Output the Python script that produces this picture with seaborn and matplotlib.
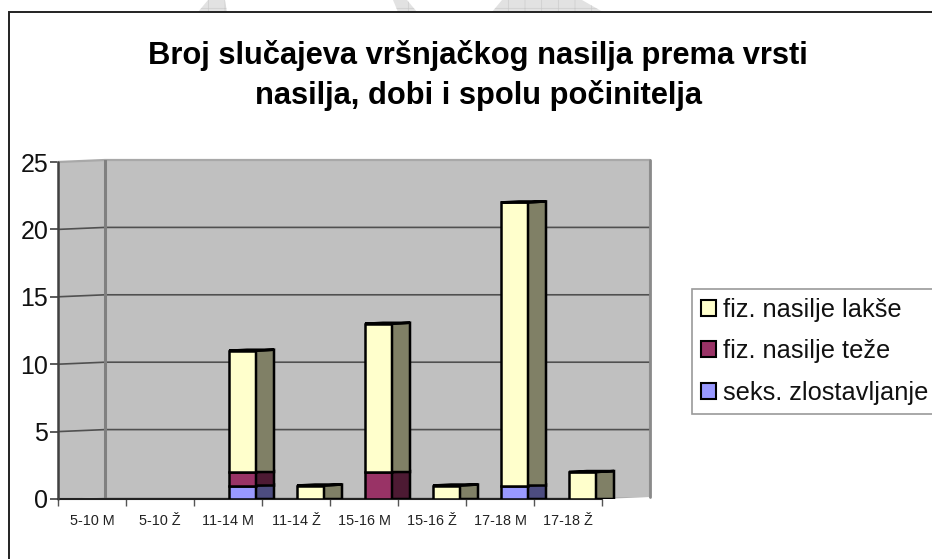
import matplotlib
matplotlib.use("Agg")
import matplotlib.pyplot as plt
from matplotlib.patches import Polygon, Patch, Rectangle
import numpy as np
import pandas as pd
import seaborn as sns

categories = ["5-10 M", "5-10 Ž", "11-14 M", "11-14 Ž", "15-16 M", "15-16 Ž", "17-18 M", "17-18 Ž"]
seks = [0, 0, 1, 0, 0, 0, 1, 0]
teze = [0, 0, 1, 0, 2, 0, 0, 0]
lakse = [0, 0, 9, 1, 11, 1, 21, 2]
series_names = ["seks. zlostavljanje", "fiz. nasilje teže", "fiz. nasilje lakše"]
face_colors = ["#9999FF", "#993366", "#FFFFCC"]
side_colors = ["#4C4C80", "#4D1A33", "#808066"]
title_lines = "Broj slučajeva vršnjačkog nasilja prema vrsti\nnasilja, dobi i spolu počinitelja"

W, H = 932, 559
sns.set_theme(style="white")
plt.rcParams["font.family"] = ["Liberation Sans", "DejaVu Sans"]
plt.rcParams["hatch.linewidth"] = 0.5

fig = plt.figure(figsize=(W / 100, H / 100), dpi=100, facecolor="white")
L, R, T, B = 58, 650, 160, 499
ax = fig.add_axes([L / W, 1 - B / H, (R - L) / W, (B - T) / H])
ax.set_facecolor("none")

px_per_cat = 68.0
px_per_val = 13.48
dx = 18 / px_per_cat        # bar depth
dy = 2 / px_per_val
wall_dx = 47 / px_per_cat
wall_dy = 2 / px_per_val

df = pd.DataFrame({"cat": categories, "seks": seks, "teze": teze, "lakse": lakse})
order = ["seks", "teze", "lakse"]
x0 = -(242.5 - L) / px_per_cat + 2
x1 = x0 + (R - L) / px_per_cat
ymax = (B - T) / px_per_val

# walls
left = x0
back = x0 + wall_dx
wall = "#C0C0C0"
ax.add_patch(Rectangle((back, wall_dy), x1 - back, 25, fc=wall, ec="none", zorder=1, clip_on=False))
ax.add_patch(Polygon([(left, 0), (back, wall_dy), (back, 25 + wall_dy), (left, 25)], fc=wall, ec="none", zorder=1, clip_on=False))
ax.plot([left, back, x1, x1], [25, 25 + wall_dy, 25 + wall_dy, wall_dy], color="#A8A8A8", lw=1.6, zorder=1.5, clip_on=False)
ax.plot([x1, x1], [wall_dy, 25 + wall_dy], color="#8A8A8A", lw=2, zorder=1.55, clip_on=False)
ax.plot([back, back], [wall_dy, 25 + wall_dy], color="#808080", lw=2.2, zorder=1.6)
ax.add_patch(Polygon([(left, 0), (left + x1 - back, 0), (x1, wall_dy), (back, wall_dy)], fc="#B0B0B0", ec="none", zorder=1.2, clip_on=False))
for v in range(5, 25, 5):
    ax.plot([left, back, x1], [v, v + wall_dy, v + wall_dy], color="#505050", lw=1.2, zorder=1.5)

# bars
bottom = np.zeros(len(categories))
for name, fc, sc in zip(order, face_colors, side_colors):
    vals = df[name].to_numpy(dtype=float)
    n_before = len(ax.patches)
    sns.barplot(data=df, x="cat", y=name, bottom=bottom, color=fc, saturation=1, width=27 / px_per_cat,
                order=categories, ax=ax, edgecolor="black", linewidth=1.8, zorder=4, errorbar=None)
    for p in ax.patches[n_before:]:
        p.set_facecolor(fc)
        if p.get_height() == 0:
            p.set_visible(False)
    for i, (b, v) in enumerate(zip(bottom, vals)):
        if v > 0:
            xr = i + 13.5 / px_per_cat
            ax.add_patch(Polygon([(xr, b), (xr + dx, b), (xr + dx, b + v + dy * 0.5), (xr, b + v)],
                                 fc=sc, ec="black", lw=1.8, zorder=4, joinstyle="miter"))
    bottom = bottom + vals
for i, top in enumerate(bottom):
    if top > 0:
        xl = i - 13.5 / px_per_cat
        xr = i + 13.5 / px_per_cat
        ax.add_patch(Polygon([(xl, top), (xr, top), (xr + dx, top + dy * 0.5), (xl + dx, top + dy * 0.5)],
                             fc=face_colors[2], ec="black", lw=1.8, zorder=4.5))

ax.set_xlim(x0, x1)
ax.set_ylim(0, ymax)
ax.set_xlabel("")
ax.set_ylabel("")
for s in ax.spines.values():
    s.set_visible(False)

# axes lines
offset = (L + px_per_cat / 2 - 242.5) / px_per_cat + 2  # category centre, bar 0 coordinates
centres = [offset + i for i in range(len(categories))]
edges = [offset - 0.5 + i for i in range(len(categories) + 1)]
ax.set_xticks(centres, categories)
ax.set_xticks(edges, minor=True)
ax.tick_params(axis="x", which="major", length=0, labelsize=10.4, pad=11, labelcolor="#222222")
ax.tick_params(axis="x", which="minor", length=5, width=1, color="#555555", bottom=True)
ax.set_yticks(range(0, 30, 5))
ax.tick_params(axis="y", length=6, width=1.2, color="#404040", labelsize=18, pad=1, labelcolor="#111111", left=True)
ax.plot([left, left], [0, 25], color="#404040", lw=1.8, zorder=5, clip_on=False)
ax.plot([left, edges[-1]], [0, 0], color="#222222", lw=1.5, zorder=3.5, clip_on=False)

# chart frame (open at the bottom and right: it runs past the picture)
fig.add_artist(Rectangle((9 / W, -0.1), 1.0, 1.1 - 12 / H, fc="none", ec="#222222", lw=1.4, transform=fig.transFigure, zorder=-1))

# faint watermark fragments showing above the frame
for shape in ([(198, 12), (208, 0), (225, 0), (227, 12)],
              [(393, 0), (407, 0), (417, 12), (398, 12)],
              [(492, 12), (502, 0), (582, 0), (603, 12)]):
    pts = [(px / W, 1 - py / H) for px, py in shape]
    fig.add_artist(Polygon(pts, closed=True, fc="#E2E2E2", ec="#CCCCCC", lw=0, hatch="+", transform=fig.transFigure, zorder=-2))

fig.text(478 / W, 1 - 75.5 / H, title_lines, ha="center", va="center", fontsize=22.2, fontweight="bold", color="black", linespacing=1.4)

handles = [Patch(facecolor=c, edgecolor="black", lw=1.5) for c in face_colors[::-1]]
leg = fig.legend(handles, series_names[::-1], loc="upper left", bbox_to_anchor=(692 / W, 1 - 289 / H),
                 bbox_transform=fig.transFigure, frameon=True, fancybox=False, edgecolor="#808080", facecolor="white",
                 fontsize=18.3, labelspacing=0.68, handlelength=0.59, handleheight=0.59, handletextpad=0.28,
                 borderpad=0.36, borderaxespad=0, labelcolor="#111111")
leg.get_frame().set_linewidth(1.2)

fig.savefig("out.png", dpi=100)
